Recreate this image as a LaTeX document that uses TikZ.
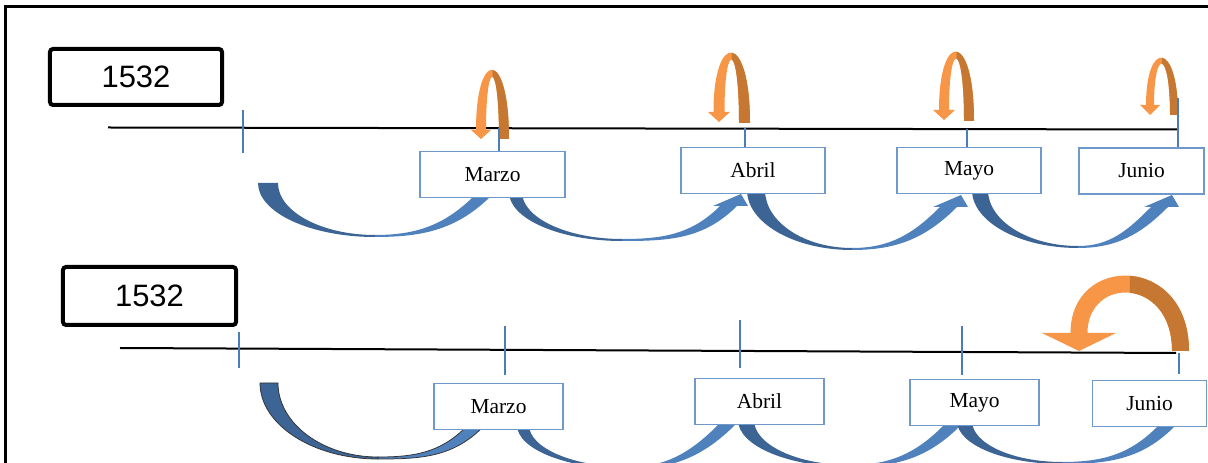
\documentclass[tikz,border=0pt]{standalone}
\usepackage{fontspec}
\setmainfont{Liberation Serif}
\newfontfamily\yearfont{Liberation Sans}
\definecolor{boxBlue}{HTML}{6F98CB}
\definecolor{tickBlue}{HTML}{4A7EBB}
\definecolor{ribbonFront}{HTML}{4F81BD}
\definecolor{ribbonBack}{HTML}{3C6494}
\definecolor{turnFront}{HTML}{F79646}
\definecolor{turnBack}{HTML}{C67832}

% curved blue arrow under the line
% [opts] tail x, tail width, tail y, bottom x, bottom y, tip x, tip y
\newcommand\ribbon[8][]{%
  \pgfmathsetmacro\rka{#5-0.55*(#5-#2)}%
  \pgfmathsetmacro\rkb{#6+0.45*(#4-#6)}%
  \pgfmathsetmacro\rkc{#5-0.55*(#5-#2-#3)}%
  \pgfmathsetmacro\rkd{#6+2+0.45*(#4-#6-2)}%
  \pgfmathsetmacro\rtl{#2+#3}%
  \fill[ribbonBack,#1] (#2,#4) .. controls (#2,\rkb) and (\rka,#6) .. (#5,#6)
    -- (#5,#6+2) .. controls (\rkc,#6+2) and (\rtl,\rkd) .. (\rtl,#4) -- cycle;
  \fill[ribbonFront,#1] (#5,#6) to[out=0,in=225] (#7-4,#8-12) -- (#7+7,#8-12)
    -- (#7,#8) -- (#7-28,#8-12) -- (#7-21,#8-12) to[out=225,in=0] (#5,#6+2) -- cycle;
}

% orange u-turn above the line
% right outer x, right inner x, leg bottom y, apex y, apex thickness,
% tip x, tip y, head half width, head height
\newcommand\uturn[9]{%
  \pgfmathsetmacro\ush{(#1-#2)/2}%
  \pgfmathsetmacro\uco{#3+(#4-#3)/0.75}%
  \pgfmathsetmacro\uci{#3+(#4-#5-#3)/0.75}%
  \pgfmathsetmacro\uxa{(#1+#6-\ush)/2}%
  \fill[turnFront] (#1,#3) .. controls (#1,\uco) and (#6-\ush,\uco) .. (#6-\ush,#7+#9)
    -- (#6-#8,#7+#9) -- (#6,#7) -- (#6+#8,#7+#9) -- (#6+\ush,#7+#9)
    .. controls (#6+\ush,\uci) and (#2,\uci) .. (#2,#3) -- cycle;
  \begin{scope}
    \clip (\uxa,#3-5) rectangle (#1+5,#4+5);
    \fill[turnBack] (#1,#3) .. controls (#1,\uco) and (#6-\ush,\uco) .. (#6-\ush,#7+#9)
      -- (#6+\ush,#7+#9) .. controls (#6+\ush,\uci) and (#2,\uci) .. (#2,#3) -- cycle;
  \end{scope}
}

\begin{document}
\begin{tikzpicture}[
    x=0.2mm, y=0.2mm,
    year/.style={draw=black,line width=0.8mm,rounded corners=0.6mm,fill=white,
                 minimum width=34.4mm,minimum height=11.2mm,
                 font=\yearfont\fontsize{17.6}{20}\selectfont},
    month/.style={draw=boxBlue,line width=0.25mm,fill=white,minimum height=9.2mm,
                  font=\fontsize{12.2}{14}\selectfont},
    timeline/.style={draw=black,line width=0.4mm},
    tick/.style={draw=tickBlue,line width=0.3mm},
    frame/.style={draw=black,line width=0.6mm}
  ]
  \useasboundingbox (0,0) rectangle (1208,-463);
  \draw[frame] (5,-463) -- (5,-6.5) -- (1208,-6.5);

  % first row
  \ribbon{258}{20}{-183}{375}{-237}{496}{-183}
  \ribbon{509}{13}{-192}{622}{-241}{741}{-194}
  \ribbon{747}{18}{-190}{852}{-250}{961}{-195}
  \ribbon{972}{16}{-190}{1078}{-248}{1172}{-195}

  \node[year] (yearA) at (136,-77) {1532};
  \node[month,minimum width=29mm]   (marzoA) at (492.5,-174.5) {Marzo};
  \node[month,minimum width=28.8mm] (abrilA) at (753,-170.5) {Abril};
  \node[month,minimum width=28.8mm] (mayoA)  at (969,-170.5) {Mayo};
  \node[month,minimum width=25mm]   (junioA) at (1141.5,-171) {Junio};

  \coordinate (lineA0) at (108,-127.5);
  \coordinate (lineA1) at (1177,-129.5);
  \draw[timeline] (lineA0) -- (lineA1);

  \uturn{509}{499}{-139}{-71}{7}{481}{-139}{10}{9}
  \uturn{750}{739}{-123}{-54}{7}{719}{-122}{11}{10}
  \uturn{974}{964}{-121}{-53}{7}{944}{-120}{11}{10}
  \uturn{1178}{1170}{-115}{-59}{6}{1150}{-115}{10}{10}

  \coordinate (tickA0) at (243,-110);
  \coordinate (tickA1) at (499,-128);
  \coordinate (tickA2) at (745,-128);
  \coordinate (tickA3) at (967,-129);
  \coordinate (tickA4) at (1178,-98);
  \draw[tick] (tickA0) -- ++(0,-43);
  \foreach \t/\m in {1/marzoA,2/abrilA,3/mayoA,4/junioA}
    \draw[tick] (tickA\t) -- (tickA\t |- \m.north);

  % second row
  \ribbon[draw=black!80,line width=0.15mm]{260}{18}{-383}{378}{-459}{487}{-415}
  \ribbon{517}{12}{-425}{628}{-469}{740}{-412}
  \ribbon{738}{16}{-420}{850}{-467}{964}{-414}
  \ribbon{957}{15}{-421}{1062}{-464}{1178}{-415}

  \node[year,minimum width=34.6mm,minimum height=11.6mm] (yearB) at (149.5,-296) {1532};
  \node[month,minimum width=25.8mm] (marzoB) at (498.5,-406.5) {Marzo};
  \node[month,minimum width=25.8mm] (abrilB) at (759.5,-401.5) {Abril};
  \node[month,minimum width=25.8mm] (mayoB)  at (974.5,-402.5) {Mayo};
  \node[month,minimum width=22.8mm] (junioB) at (1149.5,-403.5) {Junio};

  \coordinate (lineB0) at (120,-348);
  \coordinate (lineB1) at (1176,-353);
  \draw[timeline] (lineB0) -- (lineB1);

  \uturn{1189}{1172}{-351}{-278}{17}{1079}{-351}{37}{18}

  \draw[tick] (239,-332) -- (239,-368);
  \draw[tick] (505,-326) -- (505,-375);
  \draw[tick] (740,-320) -- (740,-368);
  \draw[tick] (962,-326) -- (962,-375);
  \draw[tick] (1179,-353) -- (1179,-374);
\end{tikzpicture}
\end{document}
